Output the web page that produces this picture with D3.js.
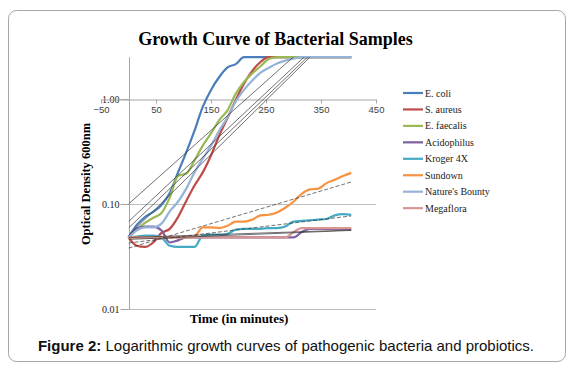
<!DOCTYPE html>
<html>
<head>
<meta charset="utf-8">
<script src="https://cdn.jsdelivr.net/npm/d3@7"></script>
<style>
body { margin: 0; background: #fff; }
</style>
</head>
<body>
<div id="chart"></div>
<script>
// Data (OD600 readings)
const times = [0,15,30,45,60,75,90,105,120,135,150,165,180,195,210,225,240,255,270,285,300,315,330,345,360,375,390,405];

const eColi = [0.048,0.063,0.075,0.084,0.098,0.127,0.2,0.31,0.5,0.84,1.22,1.62,2.0,2.15,2.5,2.5,2.5,2.5,2.5,2.5,2.5,2.5,2.5,2.5,2.5,2.5,2.5,2.5];
const sAureus = [0.048,0.040,0.039,0.043,0.053,0.058,0.075,0.107,0.15,0.2,0.29,0.45,0.66,0.98,1.4,1.85,2.25,2.5,2.5,2.5,2.5,2.5,2.5,2.5,2.5,2.5,2.5,2.5];
const eFaecalis = [0.048,0.057,0.066,0.074,0.082,0.115,0.185,0.195,0.26,0.36,0.47,0.63,0.78,1.12,1.45,1.75,2.05,2.4,2.5,2.5,2.5,2.5,2.5,2.5,2.5,2.5,2.5,2.5];
const acidophilus = [0.048,0.058,0.061,0.061,0.056,0.043,0.045,0.048,0.048,0.048,0.048,0.048,0.048,0.048,0.048,0.048,0.048,0.048,0.048,0.048,0.048,0.054,0.058,0.058,0.058,0.058,0.058,0.058];
const kroger = [0.048,0.049,0.05,0.05,0.048,0.04,0.039,0.039,0.039,0.05,0.051,0.051,0.052,0.057,0.058,0.058,0.058,0.059,0.059,0.061,0.068,0.069,0.07,0.071,0.072,0.078,0.08,0.079];
const sundown = [0.048,0.048,0.048,0.048,0.048,0.048,0.048,0.048,0.049,0.06,0.06,0.059,0.062,0.068,0.068,0.071,0.078,0.079,0.083,0.092,0.105,0.125,0.138,0.14,0.158,0.17,0.185,0.198];
const naturesBounty = [0.048,0.056,0.06,0.06,0.065,0.085,0.105,0.14,0.2,0.27,0.36,0.5,0.67,0.95,1.22,1.5,1.78,1.98,2.18,2.32,2.42,2.5,2.5,2.5,2.5,2.5,2.5,2.5];
const megaflora = [0.048,0.048,0.048,0.048,0.048,0.048,0.048,0.048,0.048,0.048,0.048,0.048,0.048,0.048,0.048,0.048,0.048,0.048,0.048,0.048,0.054,0.059,0.059,0.059,0.059,0.059,0.059,0.059];

const seriesNames = ["E. coli","S. aureus","E. faecalis","Acidophilus","Kroger 4X","Sundown","Nature's Bounty","Megaflora"];
const seriesValues = [eColi, sAureus, eFaecalis, acidophilus, kroger, sundown, naturesBounty, megaflora];
const colors = ["#4A7EBB","#BE4B48","#98B954","#7D60A0","#46AAC5","#F69240","#95B3D7","#D99694"];

// exponential trendlines: OD of the fitted line at t = 0 and t = 405
const trendStart = [0.1, 0.05, 0.068, 0.046, 0.0425, 0.038, 0.059, 0.048];
const trendEnd = [7.8, 6.1, 6.6, 0.056, 0.077, 0.162, 6.25, 0.0565];
const dashedTrend = ["Kroger 4X","Sundown"];

const xTicks = [-50,50,150,250,350,450];
const yTicks = [0.01,0.1,1];

// SVG
const width = 574;
const height = 370;
const serif = "'Liberation Serif','Times New Roman',serif";

const svg = d3.select("#chart")
    .append("svg")
    .attr("width", width)
    .attr("height", height);

// frame
svg.append("rect")
    .attr("x", 8.5).attr("y", 10.5)
    .attr("width", 557).attr("height", 351)
    .attr("rx", 8)
    .attr("fill", "#fff")
    .attr("stroke", "#a6a6a6");

// Scales
const xScale = d3.scaleLinear()
    .domain([-50, 450])
    .range([101, 376]);

const yScale = d3.scaleLog()
    .domain([0.01, 2.5])
    .range([309, 57.2]);

// gridlines
svg.append("g")
    .selectAll("line")
    .data([0.01, 0.1])
    .enter()
    .append("line")
    .attr("x1", xScale(0)).attr("x2", xScale(450))
    .attr("y1", d => Math.round(yScale(d)) + 0.5)
    .attr("y2", d => Math.round(yScale(d)) + 0.5)
    .attr("stroke", "#bfbfbf");

// y axis
const yAxis = svg.append("g")
    .attr("transform", `translate(${Math.round(xScale(0)) + 0.5},0)`)
    .call(d3.axisLeft(yScale).tickValues(yTicks).tickFormat(d3.format(".2f")).tickSize(9).tickPadding(1));
yAxis.select(".domain").remove();
yAxis.selectAll(".tick line").attr("stroke", "#a6a6a6");
yAxis.selectAll("text").attr("font-family", serif).attr("font-size", 10).attr("fill", "#222");

svg.append("line")
    .attr("x1", Math.round(xScale(0)) + 0.5).attr("x2", Math.round(xScale(0)) + 0.5)
    .attr("y1", yScale(2.5)).attr("y2", yScale(0.01))
    .attr("stroke", "#a6a6a6");

// x axis (crosses at 1.00)
const xAxis = svg.append("g")
    .attr("transform", `translate(0,${Math.round(yScale(1)) + 0.5})`)
    .call(d3.axisBottom(xScale).tickValues(xTicks).tickSize(4).tickSizeOuter(0).tickPadding(3));
xAxis.select(".domain").attr("stroke", "#a6a6a6");
xAxis.selectAll(".tick line").attr("stroke", "#a6a6a6");
xAxis.selectAll("text").attr("font-family", "'Liberation Sans',Arial,sans-serif").attr("font-size", 9.5).attr("fill", "#404040");

// clip for trendlines
svg.append("clipPath").attr("id", "plotClip")
    .append("rect")
    .attr("x", xScale(0)).attr("y", yScale(2.5))
    .attr("width", xScale(450) - xScale(0))
    .attr("height", yScale(0.01) - yScale(2.5));

// Lines
const line = d3.line()
    .x((d, i) => xScale(times[i]))
    .y(d => yScale(d))
    .curve(d3.curveMonotoneX);

svg.append("g")
    .selectAll("path")
    .data(seriesValues)
    .enter()
    .append("path")
    .attr("d", line)
    .attr("fill", "none")
    .attr("stroke", (d, i) => colors[i])
    .attr("stroke-width", 2.2);

// trendlines (straight on a log axis)
const tFirst = times[0], tLast = times[times.length - 1];
svg.append("g")
    .attr("clip-path", "url(#plotClip)")
    .selectAll("line")
    .data(seriesNames)
    .enter()
    .append("line")
    .attr("x1", xScale(tFirst)).attr("y1", (d, i) => yScale(trendStart[i]))
    .attr("x2", xScale(tLast)).attr("y2", (d, i) => yScale(trendEnd[i]))
    .attr("stroke", "#333")
    .attr("stroke-width", 0.7)
    .attr("stroke-dasharray", d => dashedTrend.includes(d) ? "4,2" : null);

// Legend
const legend = svg.append("g")
    .selectAll("g")
    .data(seriesNames)
    .enter()
    .append("g")
    .attr("transform", (d, i) => `translate(403,${93 + i * 16.45})`);

legend.append("line")
    .attr("x1", 0).attr("x2", 20)
    .attr("stroke", (d, i) => colors[i])
    .attr("stroke-width", 2.2);

legend.append("text")
    .attr("x", 22).attr("y", 3.5)
    .attr("font-family", serif)
    .attr("font-size", 10)
    .attr("fill", "#222")
    .text(d => d);

// Titles
svg.append("text")
    .attr("x", 275.5).attr("y", 45)
    .attr("text-anchor", "middle")
    .attr("font-family", serif)
    .attr("font-weight", "bold")
    .attr("font-size", 18)
    .text("Growth Curve of Bacterial Samples");

svg.append("text")
    .attr("transform", "translate(89.5,184) rotate(-90)")
    .attr("text-anchor", "middle")
    .attr("font-family", serif)
    .attr("font-weight", "bold")
    .attr("font-size", 12.5)
    .text("Optical Density 600nm");

svg.append("text")
    .attr("x", 239).attr("y", 323)
    .attr("text-anchor", "middle")
    .attr("font-family", serif)
    .attr("font-weight", "bold")
    .attr("font-size", 13)
    .text("Time (in minutes)");

// caption
const cap = svg.append("text")
    .attr("x", 286).attr("y", 351)
    .attr("text-anchor", "middle")
    .attr("font-family", "'Liberation Sans',Arial,sans-serif")
    .attr("font-size", 15)
    .attr("fill", "#111");
cap.append("tspan").attr("font-weight", "bold").text("Figure 2:");
cap.append("tspan").text(" Logarithmic growth curves of pathogenic bacteria and probiotics.");
</script>
</body>
</html>
